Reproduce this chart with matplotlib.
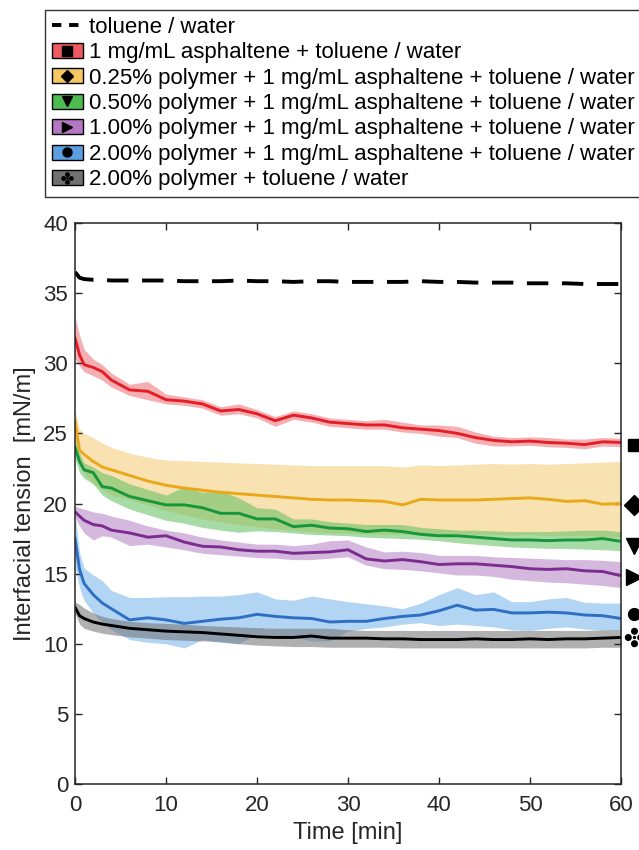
import matplotlib
matplotlib.use('Agg')
import matplotlib.pyplot as plt
import matplotlib.transforms as mtransforms
from matplotlib.lines import Line2D
from matplotlib.patches import Patch
from matplotlib.path import Path
from matplotlib.legend_handler import HandlerTuple

plt.rcParams['font.family'] = ['Liberation Sans', 'DejaVu Sans']

# Time [min]
t = [0, 0.5, 1, 2, 3, 4, 6, 8, 10, 12, 14, 16, 18, 20, 22, 24, 26, 28, 30,
     32, 34, 36, 38, 40, 42, 44, 46, 48, 50, 52, 54, 56, 58, 60]

# toluene / water
tw = [36.5, 36.1, 36.0, 35.95, 35.95, 35.9, 35.9, 35.9, 35.9, 35.85, 35.85, 35.85,
      35.9, 35.85, 35.85, 35.8, 35.85, 35.85, 35.8, 35.8, 35.8, 35.8, 35.85, 35.8,
      35.8, 35.75, 35.75, 35.75, 35.7, 35.7, 35.7, 35.65, 35.65, 35.65]

# 1 mg/mL asphaltene
red = [31.8, 30.6, 29.9, 29.7, 29.4, 28.8, 28.1, 28.0, 27.4, 27.3, 27.1, 26.6, 26.7,
       26.4, 25.9, 26.3, 26.1, 25.8, 25.7, 25.6, 25.6, 25.4, 25.3, 25.2, 25.0, 24.7,
       24.5, 24.4, 24.45, 24.35, 24.3, 24.2, 24.4, 24.35]
red_hi = [33.3, 32.0, 31.0, 30.3, 29.9, 29.3, 28.5, 28.7, 27.8, 27.6, 27.4, 26.9, 27.1,
          26.7, 26.2, 26.6, 26.4, 26.1, 26.0, 25.9, 26.0, 25.8, 25.6, 25.6, 25.5, 25.1,
          24.8, 24.7, 24.75, 24.7, 24.6, 24.6, 24.7, 24.65]
red_lo = [30.3, 29.8, 29.4, 29.1, 28.8, 28.3, 27.7, 27.4, 27.1, 27.0, 26.8, 26.3, 26.4,
          26.1, 25.5, 26.0, 25.8, 25.5, 25.4, 25.3, 25.3, 25.1, 25.0, 24.8, 24.7, 24.3,
          24.1, 24.1, 24.15, 24.05, 24.0, 23.9, 24.1, 24.05]

# 0.25% polymer
yel = [25.9, 23.8, 23.5, 23.0, 22.6, 22.4, 22.0, 21.6, 21.3, 21.1, 20.95, 20.8, 20.7,
       20.6, 20.5, 20.4, 20.3, 20.25, 20.25, 20.2, 20.15, 19.9, 20.3, 20.25, 20.25,
       20.25, 20.3, 20.35, 20.4, 20.3, 20.15, 20.2, 19.95, 20.0]
yel_hi = [26.7, 25.3, 25.0, 24.7, 24.3, 24.0, 23.6, 23.3, 23.1, 23.05, 23.0, 22.95, 22.9,
          22.85, 22.8, 22.75, 22.7, 22.7, 22.7, 22.7, 22.7, 22.6, 22.75, 22.7, 22.75,
          22.8, 22.85, 22.8, 22.85, 22.8, 22.85, 22.9, 22.95, 23.0]
yel_lo = [24.8, 22.8, 22.2, 21.4, 21.0, 20.6, 20.3, 19.9, 19.5, 19.2, 18.9, 18.7, 18.5,
          18.35, 18.2, 18.1, 18.0, 17.9, 17.9, 17.85, 17.8, 17.8, 17.8, 17.8, 17.85,
          17.8, 17.8, 17.75, 17.8, 17.7, 17.7, 17.7, 17.65, 17.6]

# 0.50% polymer
grn = [24.0, 23.0, 22.4, 22.2, 21.2, 21.1, 20.5, 20.2, 19.9, 19.9, 19.7, 19.3, 19.3,
       18.9, 18.9, 18.35, 18.45, 18.25, 18.2, 18.0, 18.1, 18.0, 17.8, 17.7, 17.7, 17.6,
       17.5, 17.4, 17.4, 17.35, 17.4, 17.4, 17.5, 17.3]
grn_hi = [24.8, 23.6, 22.9, 22.6, 22.2, 22.0, 21.4, 21.0, 20.6, 21.2, 20.8, 20.9, 20.4,
          19.7, 19.6, 18.9, 18.9, 18.7, 18.6, 18.5, 18.5, 18.5, 18.3, 18.2, 18.1, 18.1,
          18.05, 18.0, 18.0, 18.0, 18.05, 18.1, 18.1, 18.0]
grn_lo = [23.2, 22.2, 21.8, 21.4, 20.6, 20.2, 19.6, 19.2, 18.8, 18.6, 18.3, 18.1, 17.95,
          18.05, 18.0, 17.9, 17.8, 17.75, 17.7, 17.6, 17.55, 17.5, 17.45, 17.35, 17.2,
          17.1, 17.0, 16.9, 16.85, 16.8, 16.8, 16.75, 16.7, 16.65]

# 1.00% polymer
pur = [19.4, 19.1, 18.8, 18.5, 18.4, 18.1, 17.9, 17.6, 17.7, 17.25, 16.95, 16.9, 16.7,
       16.6, 16.6, 16.45, 16.5, 16.55, 16.7, 16.05, 15.9, 16.0, 15.85, 15.65, 15.7, 15.7,
       15.6, 15.5, 15.35, 15.3, 15.35, 15.2, 15.15, 14.85]
pur_hi = [19.8, 19.7, 19.6, 19.4, 19.3, 19.1, 18.8, 18.4, 18.1, 17.9, 17.6, 17.4, 17.25,
          17.1, 17.1, 17.0, 17.1, 17.35, 17.4, 16.9, 16.55, 16.6, 16.5, 16.3, 16.3, 16.3,
          16.2, 16.15, 16.1, 16.05, 16.0, 16.0, 15.95, 15.85]
pur_lo = [19.0, 18.4, 17.9, 17.4, 17.7, 17.6, 17.0, 17.1, 16.9, 16.7, 16.45, 16.35, 16.25,
          16.15, 16.1, 16.0, 16.0, 16.1, 16.2, 15.6, 15.35, 15.3, 15.2, 15.05, 14.9, 14.9,
          14.8, 14.6, 14.5, 14.4, 14.35, 14.25, 14.15, 14.0]

# 2.00% polymer + asphaltene
blu = [17.5, 15.3, 14.3, 13.5, 12.9, 12.5, 11.7, 11.85, 11.7, 11.45, 11.6, 11.75, 11.85,
       12.1, 11.95, 11.85, 11.8, 11.55, 11.6, 11.6, 11.8, 11.95, 12.05, 12.35, 12.75,
       12.4, 12.45, 12.2, 12.2, 12.25, 12.2, 12.05, 12.0, 11.8]
blu_hi = [19.3, 16.5, 15.4, 14.9, 14.5, 13.8, 13.3, 13.3, 13.35, 13.35, 13.4, 13.4, 13.5,
          13.7, 13.2, 13.1, 13.4, 13.2, 13.0, 12.85, 12.7, 12.5, 12.9, 13.5, 14.0, 13.5,
          13.7, 13.0, 13.0, 13.2, 13.3, 12.95, 12.9, 12.9]
blu_lo = [15.5, 14.0, 13.1, 12.2, 11.5, 11.0, 10.3, 10.1, 10.0, 9.7, 10.3, 10.1, 10.0,
          10.7, 10.6, 10.5, 10.2, 10.2, 10.9, 11.1, 11.2, 11.4, 11.5, 11.3, 11.4, 11.3,
          11.2, 11.0, 10.95, 11.1, 11.2, 11.05, 11.0, 10.95]

# 2.00% polymer, no asphaltene
blk = [12.6, 12.0, 11.8, 11.55, 11.4, 11.3, 11.1, 11.0, 10.9, 10.85, 10.8, 10.7, 10.6,
       10.5, 10.45, 10.45, 10.55, 10.4, 10.4, 10.4, 10.35, 10.35, 10.3, 10.3, 10.3, 10.35,
       10.3, 10.3, 10.35, 10.3, 10.35, 10.35, 10.4, 10.45]
blk_hi = [13.0, 12.8, 12.55, 12.2, 11.95, 11.8, 11.6, 11.5, 11.45, 11.4, 11.3, 11.25, 11.2,
          11.15, 11.1, 11.1, 11.1, 11.1, 11.0, 10.95, 10.95, 10.95, 10.95, 10.95, 10.95,
          10.95, 10.95, 10.95, 10.95, 10.95, 10.95, 10.95, 11.0, 11.0]
blk_lo = [12.2, 11.4, 11.1, 10.9, 10.75, 10.65, 10.5, 10.4, 10.3, 10.25, 10.2, 10.15, 10.0,
          9.9, 9.85, 9.8, 9.8, 9.75, 9.75, 9.75, 9.75, 9.7, 9.7, 9.7, 9.7, 9.7, 9.7, 9.7,
          9.7, 9.7, 9.7, 9.7, 9.75, 9.75]

labels = ['toluene / water',
          '1 mg/mL asphaltene + toluene / water',
          '0.25% polymer + 1 mg/mL asphaltene + toluene / water',
          '0.50% polymer + 1 mg/mL asphaltene + toluene / water',
          '1.00% polymer + 1 mg/mL asphaltene + toluene / water',
          '2.00% polymer + 1 mg/mL asphaltene + toluene / water',
          '2.00% polymer + toluene / water']

# end-of-curve marker positions (right of the axes)
marker_y = [24.15, 19.9, 16.95, 14.75, 12.1, 10.45]

# four-leaf marker built from circles
clover = Path.make_compound_path(
    Path.circle((0.62, 0), 0.28), Path.circle((-0.62, 0), 0.28),
    Path.circle((0, 0.62), 0.28), Path.circle((0, -0.62), 0.28),
    Path.circle((0, 0), 0.1))

series = [
    (red, red_lo, red_hi, '#E41E26', '#EE6E74', '#EE5A5F', 's', 0.55),
    (yel, yel_lo, yel_hi, '#E9A81A', '#F5CF80', '#F5C862', 'D', 0.6),
    (grn, grn_lo, grn_hi, '#16963A', '#5DBE5E', '#4DBB4F', 'v', 0.55),
    (pur, pur_lo, pur_hi, '#7B2C8E', '#B27EC2', '#B376C0', '>', 0.55),
    (blu, blu_lo, blu_hi, '#2E6FC4', '#7DB9EC', '#5B9FE0', 'o', 0.6),
    (blk, blk_lo, blk_hi, '#000000', '#707070', '#707070', clover, 0.55),
]

fig = plt.figure(figsize=(6.39, 8.5), dpi=100)
ax = fig.add_axes([75 / 639, 1 - 784 / 850, 546 / 639, 561 / 850])

for m, lo, hi, lc, bc, pc, mk, a in series:
    ax.fill_between(t, lo, hi, color=bc, alpha=a, lw=0)
ax.plot(t, tw, color='black', lw=2.8, ls=(0, (5.5, 3.5)))
for m, lo, hi, lc, bc, pc, mk, a in series:
    ax.plot(t, m, color=lc, lw=2.1)

# markers at the right edge
trans = mtransforms.blended_transform_factory(ax.transAxes, ax.transData)
sizes = [9, 10, 11, 11, 8.5, 13]
for (m, lo, hi, lc, bc, pc, mk, a), y, s in zip(series, marker_y, sizes):
    ax.plot([1.024], [y], marker=mk, color='black', ms=s, ls='none',
            transform=trans, clip_on=False)

ax.set_xlim(0, 60)
ax.set_ylim(0, 40)
ax.set_xticks(range(0, 61, 10))
ax.set_yticks(range(0, 41, 5))
ax.tick_params(direction='in', length=5, width=1, top=True, right=True,
               labelsize=16, colors='#262626', pad=5)
ax.tick_params(axis='x', pad=8)
for sp in ax.spines.values():
    sp.set_linewidth(1.1)
    sp.set_color('#262626')
ax.set_xlabel('Time [min]', fontsize=17, color='#262626', labelpad=4)
ax.set_ylabel('Interfacial tension  [mN/m]', fontsize=17, color='#262626', labelpad=5)

# legend
handles = [Line2D([], [], color='black', lw=2.8, ls=(0, (2.4, 2.0)))]
for m, lo, hi, lc, bc, pc, mk, a in series:
    handles.append((Patch(facecolor=pc, edgecolor='black', lw=1.0),
                    Line2D([], [], marker=mk, color='black', ls='none',
                           ms=8 if mk is clover else 6.5)))
leg = fig.legend(handles, labels, loc='upper left',
                 bbox_to_anchor=(45 / 639, 1 - 10 / 850), borderaxespad=0,
                 fontsize=16, frameon=True, fancybox=False, edgecolor='black',
                 handlelength=1.4, handleheight=0.65, handletextpad=0.3,
                 labelspacing=0.2, borderpad=0.3,
                 handler_map={tuple: HandlerTuple(ndivide=1)})
leg.get_frame().set_linewidth(1.0)

fig.savefig('out.png', dpi=100)
